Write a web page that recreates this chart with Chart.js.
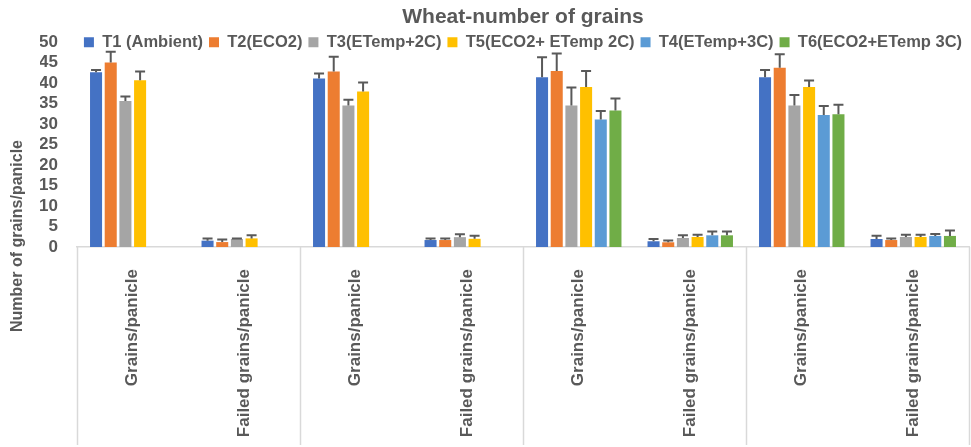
<!DOCTYPE html>
<html><head><meta charset="utf-8">
<script src="https://cdn.jsdelivr.net/npm/chart.js@4.4.1/dist/chart.umd.min.js"></script>
<style>html,body{margin:0;padding:0;background:#fff;}#wrap{width:971px;height:447px;}</style>
</head><body><div id="wrap"><canvas id="c" width="971" height="447"></canvas></div>
<script>
const categories = ["Grains/panicle","Failed grains/panicle","Grains/panicle","Failed grains/panicle","Grains/panicle","Failed grains/panicle","Grains/panicle","Failed grains/panicle"];
const seriesNames = ["T1 (Ambient)","T2(ECO2)","T3(ETemp+2C)","T5(ECO2+ ETemp 2C)","T4(ETemp+3C)","T6(ECO2+ETemp 3C)"];
const seriesColors = ["#4472C4","#ED7D31","#A5A5A5","#FFC000","#5B9BD5","#70AD47"];
const t1 = [42.6, 1.55, 41.1, 1.7, 41.4, 1.4, 41.4, 1.95];
const t2 = [45.0, 1.2, 42.8, 1.7, 42.9, 1.15, 43.7, 1.7];
const t3 = [35.6, 1.95, 34.5, 2.4, 34.5, 2.2, 34.5, 2.45];
const t5 = [40.7, 2.1, 37.9, 2.0, 39.0, 2.45, 39.0, 2.45];
const t4 = [null, null, null, null, 31.1, 2.85, 32.2, 2.7];
const t6 = [null, null, null, null, 33.3, 2.85, 32.4, 2.7];
const t1Err = [0.6, 0.55, 1.2, 0.4, 4.9, 0.55, 1.8, 0.8];
const t2Err = [2.6, 0.6, 3.6, 0.4, 4.3, 0.45, 3.3, 0.4];
const t3Err = [1.1, 0.1, 1.4, 0.7, 4.4, 0.65, 2.6, 0.55];
const t5Err = [2.1, 0.75, 2.2, 0.75, 3.9, 0.55, 1.6, 0.55];
const t4Err = [null, null, null, null, 2.1, 0.95, 2.2, 0.5];
const t6Err = [null, null, null, null, 2.9, 0.95, 2.3, 1.3];
const yMin = 0, yMax = 50, yStep = 5;
const chartTitle = "Wheat-number of grains";
const yTitle = "Number of grains/panicle";

const values = [t1, t2, t3, t5, t4, t6];
const errs = [t1Err, t2Err, t3Err, t5Err, t4Err, t6Err];
const gray = "#595959";
const sans = "'Liberation Sans',Arial,sans-serif";

const errorBars = {
  id: 'errorBars',
  afterDatasetsDraw(chart) {
    const ctx = chart.ctx, ys = chart.scales.y;
    chart.data.datasets.forEach((ds, i) => {
      const meta = chart.getDatasetMeta(i);
      meta.data.forEach((bar, j) => {
        const v = ds.data[j], e = ds.errors[j];
        if (v == null || e == null) return;
        const x = bar.x, y0 = ys.getPixelForValue(v), y1 = ys.getPixelForValue(v + e);
        ctx.save();
        ctx.strokeStyle = gray; ctx.lineWidth = 2;
        ctx.beginPath();
        ctx.moveTo(x, y0); ctx.lineTo(x, y1);
        ctx.moveTo(x - 5, y1); ctx.lineTo(x + 5, y1);
        ctx.stroke();
        ctx.restore();
      });
    });
  }
};
const separators = {
  id: 'separators',
  afterDraw(chart) {
    const ctx = chart.ctx, xs = chart.scales.x;
    ctx.save();
    ctx.strokeStyle = "#d9d9d9"; ctx.lineWidth = 1.5;
    for (let b = 0; b <= categories.length; b += 2) {
      const px = Math.round(xs.getPixelForValue(b - 0.5)) + 0.5;
      ctx.beginPath(); ctx.moveTo(px, xs.top); ctx.lineTo(px, chart.height - 2); ctx.stroke();
    }
    ctx.restore();
  }
};
const yTitlePlugin = {
  id: 'yTitlePlugin',
  afterDraw(chart) {
    const ctx = chart.ctx;
    ctx.save();
    ctx.translate(18, 236);
    ctx.rotate(-Math.PI / 2);
    ctx.font = "bold 16px " + sans;
    ctx.fillStyle = gray; ctx.textAlign = 'center'; ctx.textBaseline = 'middle';
    ctx.fillText(yTitle, 0, 0);
    ctx.restore();
  }
};
// let the legend overlap the top of the plot (as in the reference) without being clipped
const legendOverlap = {
  id: 'legendOverlap',
  afterLayout(chart) {
    const l = chart.legend;
    if (l) { l.bottom = l.top + 40; l.height = 40; }
  }
};

new Chart(document.getElementById('c'), {
  type: 'bar',
  data: {
    labels: categories,
    datasets: seriesNames.map((n, i) => ({
      label: n, data: values[i], errors: errs[i],
      backgroundColor: seriesColors[i], borderWidth: 0,
      categoryPercentage: 0.79, barPercentage: 0.82
    }))
  },
  options: {
    responsive: false, animation: false, devicePixelRatio: 1,
    layout: { padding: { left: 40, right: 2, top: 0, bottom: 0 } },
    plugins: {
      title: { display: true, text: chartTitle, color: gray, fullSize: false,
        font: { family: sans, size: 21, weight: 'bold', lineHeight: 1 },
        padding: { top: 7, bottom: 0 } },
      legend: { position: 'top', maxHeight: 14, fullSize: false,
        labels: { boxWidth: 10, boxHeight: 10, padding: 6, color: gray,
          font: { family: sans, size: 16.5, weight: 'bold' } } },
      tooltip: { enabled: false }
    },
    scales: {
      x: {
        afterFit(scale) { scale.height = 200; },
        grid: { display: false, drawTicks: false },
        border: { display: true, color: "#d9d9d9", width: 1.5 },
        ticks: { autoSkip: false, minRotation: 90, maxRotation: 90, padding: 22, color: gray,
          font: { family: sans, size: 17, weight: 'bold' } }
      },
      y: {
        min: yMin, max: yMax,
        afterFit(scale) { scale.width = 37; },
        grid: { display: false, drawTicks: false },
        border: { display: false },
        ticks: { stepSize: yStep, autoSkip: false, padding: 19, color: gray,
          font: { family: sans, size: 17, weight: 'bold' } }
      }
    }
  },
  plugins: [errorBars, separators, yTitlePlugin, legendOverlap]
});
</script></body></html>
